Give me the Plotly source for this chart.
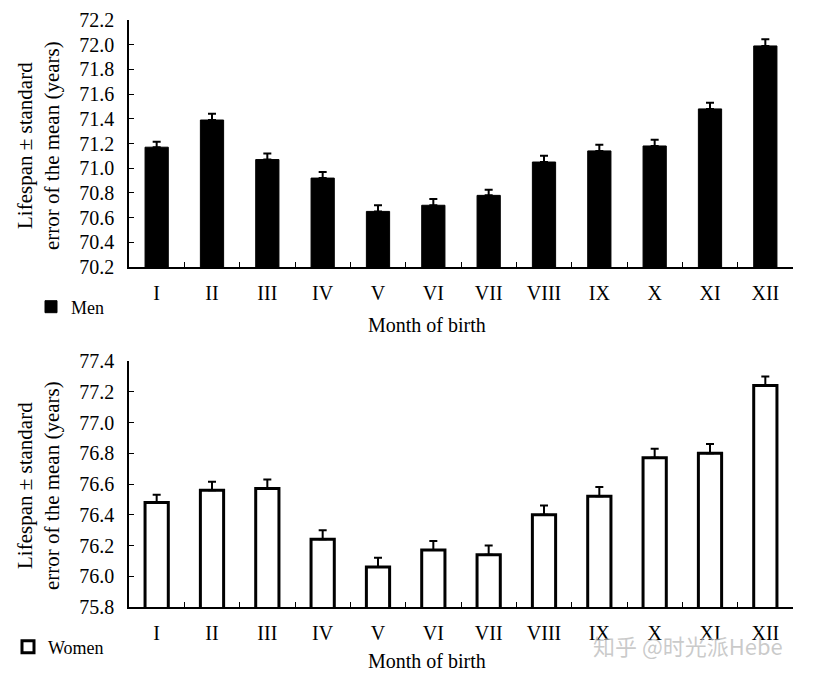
import plotly.graph_objects as go
from plotly.subplots import make_subplots

months = ["I", "II", "III", "IV", "V", "VI", "VII", "VIII", "IX", "X", "XI", "XII"]
men = [71.17, 71.39, 71.07, 70.92, 70.65, 70.70, 70.78, 71.05, 71.14, 71.18, 71.48, 71.99]
men_se = [0.045, 0.05, 0.05, 0.05, 0.05, 0.05, 0.045, 0.05, 0.05, 0.05, 0.05, 0.055]
women = [76.48, 76.56, 76.57, 76.24, 76.06, 76.17, 76.14, 76.40, 76.52, 76.77, 76.80, 77.24]
women_se = [0.05, 0.055, 0.06, 0.06, 0.06, 0.06, 0.06, 0.06, 0.06, 0.06, 0.06, 0.06]
zeros = [0] * len(months)

FONT = "Liberation Serif"
OFF = 8  # default page body margin
W, H = 814 - 2 * OFF, 679 - 2 * OFF
ML, MT = 129 - OFF, 20 - OFF
MR = W - (793 - OFF)
MB = H - (607 - OFF)
ph = H - MT - MB
pw = W - ML - MR


def px(x):
    return (x - OFF - ML) / pw


def py(y):
    return (H - MB - (y - OFF)) / ph


fig = make_subplots(rows=2, cols=1)

fig.add_trace(go.Bar(
    x=months, y=men, name="Men", showlegend=True,
    marker=dict(color="black", line=dict(color="black", width=1)),
    error_y=dict(type="data", symmetric=False, array=men_se, arrayminus=zeros,
                 color="black", thickness=2, width=4),
    legend="legend",
), row=1, col=1)

fig.add_trace(go.Bar(
    x=months, y=women, name="Women", showlegend=True,
    marker=dict(color="white", line=dict(color="black", width=3)),
    error_y=dict(type="data", symmetric=False, array=women_se, arrayminus=zeros,
                 color="black", thickness=2, width=4),
    legend="legend2",
), row=2, col=1)

xcommon = dict(
    showline=True, linecolor="black", linewidth=1.5,
    ticks="inside", tickson="boundaries", ticklen=5, tickwidth=1, tickcolor="black",
    tickfont=dict(family=FONT, size=20, color="black"),
    ticklabelstandoff=7, showgrid=False, zeroline=False,
    range=[-0.5, 11.5], automargin=False,
)
ycommon = dict(
    showline=True, linecolor="black", linewidth=1.5,
    ticks="inside", ticklen=5, tickwidth=1, tickcolor="black",
    tickfont=dict(family=FONT, size=20, color="black"),
    ticklabelstandoff=9, showgrid=False, zeroline=False,
    dtick=0.2, tickformat=".1f", automargin=False,
)

fig.update_xaxes(**xcommon)
fig.update_yaxes(**ycommon)
fig.update_layout(
    xaxis=dict(domain=[0, 1]),
    xaxis2=dict(domain=[0, 1]),
    yaxis=dict(domain=[py(267), 1], range=[70.2, 72.2]),
    yaxis2=dict(domain=[0, py(361)], range=[75.8, 77.4]),
)

ytitle = "Lifespan ± standard<br>error of the mean (years)"
for yc in (146, 486):
    fig.add_annotation(text=ytitle, xref="paper", yref="paper",
                       x=px(39), y=py(yc), xanchor="center", yanchor="middle",
                       textangle=-90, showarrow=False,
                       font=dict(family=FONT, size=21, color="black"))

for yc in (325, 661):
    fig.add_annotation(text="Month of birth", xref="paper", yref="paper",
                       x=px(427), y=py(yc), xanchor="center", yanchor="middle",
                       showarrow=False,
                       font=dict(family=FONT, size=20, color="black"))

# watermark
fig.add_annotation(text="知乎 @时光派Hebe", xref="paper", yref="paper",
                   x=px(688), y=py(645), xanchor="center", yanchor="middle",
                   showarrow=False,
                   font=dict(family="Noto Sans CJK SC", size=22, color="rgba(185,185,185,0.75)"))

legfont = dict(family=FONT, size=18, color="black")
fig.update_layout(
    width=W, height=H,
    margin=dict(l=ML, r=MR, t=MT, b=MB, autoexpand=False),
    paper_bgcolor="white", plot_bgcolor="white",
    bargap=0.58,
    legend=dict(x=(31 - OFF) / W, y=1 - (307 - OFF) / H,
                xanchor="left", yanchor="middle", xref="container", yref="container",
                font=legfont, bgcolor="rgba(0,0,0,0)", borderwidth=0),
    legend2=dict(x=0, y=1 - (647 - OFF) / H,
                 xanchor="left", yanchor="middle", xref="container", yref="container",
                 font=legfont, bgcolor="rgba(0,0,0,0)", borderwidth=0),
)

fig.write_html("out.html")
